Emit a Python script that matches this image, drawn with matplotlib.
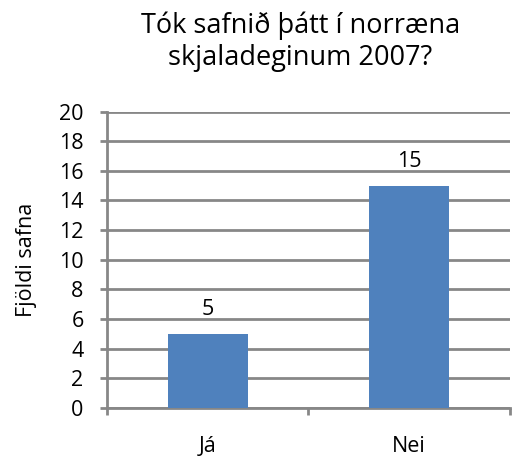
import matplotlib.pyplot as plt

categories = ["Já", "Nei"]
counts = [5, 15]
y_ticks = list(range(0, 21, 2))

plt.rcParams['font.family'] = ['Open Sans', 'DejaVu Sans']

fig = plt.figure(figsize=(5.15, 4.61), dpi=100)
ax = fig.add_axes([0.208, 0.115, 0.782, 0.643])

x = range(len(categories))
bars = ax.bar(x, counts, width=0.4, color='#4F81BD', zorder=3)
for b, v in zip(bars, counts):
    ax.annotate(str(v), (b.get_x() + b.get_width() / 2, v), xytext=(0, 10),
                textcoords='offset points', ha='center', va='bottom', fontsize=15.5)

ax.set_xlim(-0.5, 1.5)
ax.set_ylim(0, 20)
ax.set_yticks(y_ticks)
ax.set_xticks([-0.5, 0.5, 1.5])
ax.set_xticklabels([])
ax.set_xticks(list(x), minor=True)
ax.set_xticklabels(categories, minor=True, fontsize=15.5)
ax.tick_params(axis='x', which='minor', length=0, pad=20)
ax.tick_params(axis='x', which='major', length=5, width=2, color='#878787')
ax.tick_params(axis='y', length=5, width=2, color='#878787', labelsize=15.5, pad=12)

ax.grid(axis='y', color='#878787', linewidth=2, zorder=0)
for s in ['top', 'right']:
    ax.spines[s].set_visible(False)
for s in ['left', 'bottom']:
    ax.spines[s].set_color('#878787')
    ax.spines[s].set_linewidth(2)

ax.set_ylabel("Fjöldi safna", fontsize=15.5, labelpad=16)
fig.text(0.583, 0.91, "Tók safnið þátt í norræna\nskjaladeginum 2007?",
         fontsize=19.5, ha='center', va='center', linespacing=1.2)

fig.savefig("out.png", dpi=100)
